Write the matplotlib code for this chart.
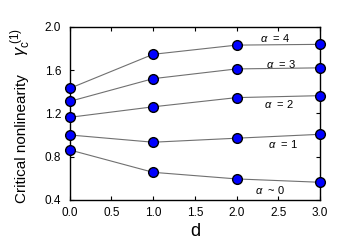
import matplotlib
matplotlib.use("Agg")
import matplotlib.pyplot as plt

plt.rcParams['font.family'] = ['Liberation Sans', 'DejaVu Sans']
plt.rcParams['mathtext.fontset'] = 'custom'
plt.rcParams['mathtext.rm'] = 'Liberation Sans'
plt.rcParams['mathtext.it'] = 'Liberation Sans:italic'

d = [0.0, 1.0, 2.0, 3.0]
alpha4 = [1.43, 1.745, 1.83, 1.837]
alpha3 = [1.31, 1.52, 1.61, 1.62]
alpha2 = [1.163, 1.26, 1.345, 1.363]
alpha1 = [1.0, 0.933, 0.97, 1.006]
alpha0 = [0.862, 0.655, 0.594, 0.563]
series = [alpha4, alpha3, alpha2, alpha1, alpha0]
labels = [r'$\alpha$  = 4', r'$\alpha$  = 3', r'$\alpha$  = 2', r'$\alpha$  = 1', r'$\alpha$  ~ 0']
label_pos = [(2.46, 1.896), (2.53, 1.66), (2.51, 1.29), (2.55, 0.914), (2.40, 0.49)]

fig = plt.figure(figsize=(3.43, 2.45), dpi=100)
ax = fig.add_axes([0.203, 0.184, 0.730, 0.707])

for ys in series:
    ax.plot(d, ys, '-', color='#707070', lw=0.8, zorder=2)
    ax.plot(d, ys, 'o', ms=7, mfc='#0000ff', mec='black', mew=1.0, zorder=3, clip_on=False)

for lab, (x, y) in zip(labels, label_pos):
    ax.text(x, y, lab, fontsize=8, ha='center', va='center')

ax.set_xlim(0, 3)
ax.set_ylim(0.4, 2.0)
ax.set_xticks([0, 0.5, 1.0, 1.5, 2.0, 2.5, 3.0])
ax.set_yticks([0.4, 0.8, 1.2, 1.6, 2.0])
ax.xaxis.set_major_formatter(matplotlib.ticker.FormatStrFormatter('%.1f'))
ax.yaxis.set_major_formatter(matplotlib.ticker.FormatStrFormatter('%.1f'))
ax.tick_params(direction='in', top=True, right=True, length=3, width=0.8,
               labelsize=8.5)
ax.tick_params(axis='x', pad=5)
ax.tick_params(axis='y', pad=6)
for s in ax.spines.values():
    s.set_linewidth(1.0)

ax.set_xlabel('d', fontsize=13, labelpad=3)
fig.text(22/343, 1 - 139/245, 'Critical nonlinearity', rotation=90,
         fontsize=11, ha='center', va='center')
fig.text(21/343, 1 - 42/245, r'$\gamma_{\rm c}^{\ (1)}$', rotation=90,
         fontsize=12, ha='center', va='center')

fig.savefig('out.png', dpi=100)
